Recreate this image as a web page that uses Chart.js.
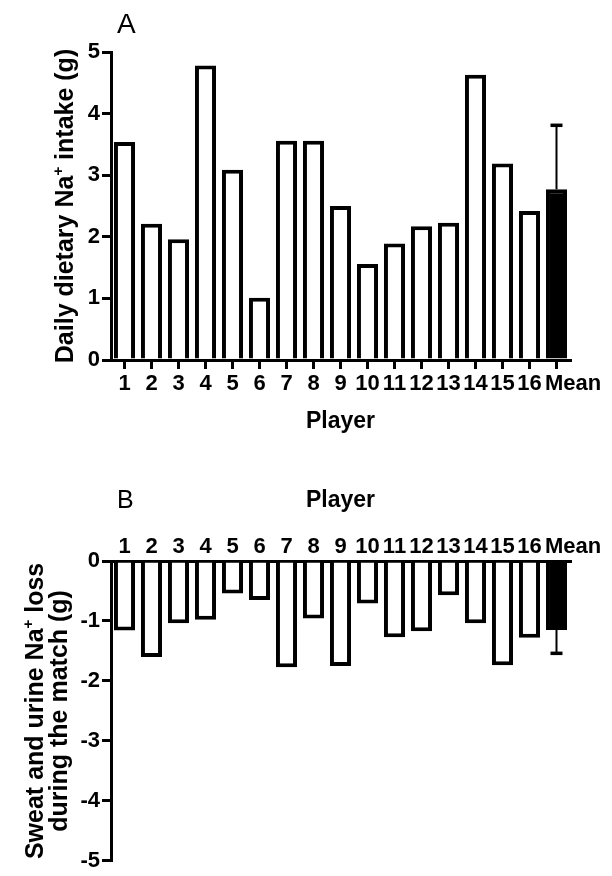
<!DOCTYPE html>
<html>
<head>
<meta charset="utf-8">
<script src="https://cdn.jsdelivr.net/npm/chart.js@4.4.0/dist/chart.umd.min.js"></script>
<style>
  html, body { margin: 0; padding: 0; background: #fff; }
  .panel { position: relative; width: 612px; }
  #panelA { height: 440px; }
  #panelB { height: 436px; }
</style>
</head>
<body>
<div class="panel" id="panelA"><canvas id="chartA"></canvas></div>
<div class="panel" id="panelB"><canvas id="chartB"></canvas></div>
<script>
// categories
const players = ["1", "2", "3", "4", "5", "6", "7", "8", "9", "10", "11", "12", "13", "14", "15", "16", "Mean"];

// panel A: daily dietary Na+ intake (g)
const intakeValues = [3.54, 2.21, 1.96, 4.78, 3.09, 1.01, 3.56, 3.56, 2.5, 1.56, 1.89, 2.17, 2.23, 4.63, 3.19, 2.42, 2.77];
const intakeMeanSd = 1.04;

// panel B: sweat and urine Na+ loss during the match (g)
const lossValues = [-1.16, -1.6, -1.04, -0.98, -0.54, -0.65, -1.77, -0.96, -1.75, -0.71, -1.27, -1.17, -0.57, -1.04, -1.74, -1.28, -1.15];
const lossMeanSd = 0.39;

const FONT = "'Liberation Sans', Arial, sans-serif";
const barFill = players.map((p) => (p === "Mean" ? "#000" : "#fff"));

// error bar on the Mean bar only, drawn from the y scale
const meanErrorBar = {
  id: "meanErrorBar",
  afterDatasetsDraw(chart, args, opts) {
    const ctx = chart.ctx;
    const meta = chart.getDatasetMeta(0);
    const last = meta.data.length - 1;
    const bar = meta.data[last];
    const value = chart.data.datasets[0].data[last];
    const yScale = chart.scales.y;
    const yStart = yScale.getPixelForValue(value);
    const yEnd = yScale.getPixelForValue(value + opts.sd);
    ctx.save();
    ctx.strokeStyle = "#000";
    ctx.lineWidth = 2;
    ctx.beginPath();
    ctx.moveTo(bar.x, yStart);
    ctx.lineTo(bar.x, yEnd);
    ctx.stroke();
    ctx.lineWidth = 3.5;
    ctx.beginPath();
    ctx.moveTo(bar.x - 6, yEnd);
    ctx.lineTo(bar.x + 6, yEnd);
    ctx.stroke();
    ctx.restore();
  },
};

// draws a run of text parts, "+" parts as superscripts
const drawParts = (ctx, parts, size) => {
  const normal = `bold ${size}px ${FONT}`;
  const small = `bold ${Math.round(size * 0.6)}px ${FONT}`;
  let total = 0;
  parts.forEach((p) => {
    ctx.font = p.sup ? small : normal;
    total += ctx.measureText(p.t).width;
  });
  let x = -total / 2;
  parts.forEach((p) => {
    ctx.font = p.sup ? small : normal;
    ctx.fillText(p.t, x, p.sup ? -size * 0.42 : 0);
    x += ctx.measureText(p.t).width;
  });
};

const panelTitles = {
  id: "panelTitles",
  afterDraw(chart, args, opts) {
    const ctx = chart.ctx;
    const area = chart.chartArea;
    ctx.save();
    ctx.fillStyle = "#000";
    ctx.textBaseline = "alphabetic";
    ctx.textAlign = "left";

    ctx.font = `${opts.letterSize}px ${FONT}`;
    ctx.fillText(opts.letter, opts.letterX, opts.letterY);

    ctx.font = `bold 23px ${FONT}`;
    ctx.textAlign = "center";
    ctx.fillText("Player", (area.left + area.right) / 2, opts.playerY);

    ctx.textAlign = "left";
    const midY = (area.top + area.bottom) / 2;
    opts.yLines.forEach((line, i) => {
      ctx.save();
      ctx.translate(opts.yBaselines[i], midY);
      ctx.rotate(-Math.PI / 2);
      drawParts(ctx, line, 25);
      ctx.restore();
    });
    ctx.restore();
  },
};

const tickFont = { family: FONT, size: 22, weight: "bold" };

// the "Mean" label sits a little right of its tick, as in the original figure
const xLabel = (value, index) => (index === players.length - 1 ? "\u2002\u2002\u2002" + players[index] : players[index]);

const makeChart = (canvasId, values, yMin, yMax, panel) => {
  const top = panel === "A";
  return new Chart(document.getElementById(canvasId), {
    type: "bar",
    data: {
      labels: players,
      datasets: [
        {
          data: values,
          backgroundColor: barFill,
          borderColor: "#000",
          borderWidth: 4,
          borderSkipped: "start",
          barPercentage: 0.78,
          categoryPercentage: 1,
        },
      ],
    },
    options: {
      responsive: true,
      maintainAspectRatio: false,
      animation: false,
      layout: {
        padding: top
          ? { top: 52, right: 42, left: 0, bottom: 0 }
          : { top: 0, right: 42, left: 0, bottom: 8 },
      },
      plugins: {
        legend: { display: false },
        tooltip: { enabled: false },
        meanErrorBar: { sd: top ? intakeMeanSd : -lossMeanSd },
        panelTitles: top
          ? {
              letter: "A",
              letterSize: 28,
              letterX: 117,
              letterY: 33,
              playerY: 428,
              yBaselines: [73],
              yLines: [[{ t: "Daily dietary Na" }, { t: "+", sup: true }, { t: " intake (g)" }]],
            }
          : {
              letter: "B",
              letterSize: 25,
              letterX: 117,
              letterY: 68,
              playerY: 67,
              yBaselines: [43, 67],
              yLines: [
                [{ t: "Sweat and urine Na" }, { t: "+", sup: true }, { t: " loss" }],
                [{ t: "during the match (g)" }],
              ],
            },
      },
      scales: {
        x: {
          position: top ? "bottom" : "top",
          grid: {
            display: top,
            drawOnChartArea: false,
            drawTicks: top,
            offset: false,
            tickLength: 9,
            lineWidth: 3,
            color: "#000",
          },
          border: { display: true, color: "#000", width: 3 },
          ticks: {
            color: "#000",
            font: tickFont,
            autoSkip: false,
            maxRotation: 0,
            padding: top ? 2 : 1,
            callback: xLabel,
          },
          afterFit: (scale) => {
            scale.height = top ? 80 : 121;
          },
        },
        y: {
          min: yMin,
          max: yMax,
          grid: {
            drawOnChartArea: false,
            tickLength: 9,
            lineWidth: 3,
            color: "#000",
          },
          border: { display: true, color: "#000", width: 3 },
          ticks: {
            stepSize: 1,
            color: "#000",
            font: tickFont,
            padding: 2,
          },
          afterFit: (scale) => {
            scale.width = 111;
          },
        },
      },
    },
    plugins: [meanErrorBar, panelTitles],
  });
};

makeChart("chartA", intakeValues, 0, 5, "A");
makeChart("chartB", lossValues, -5, 0, "B");
</script>
</body>
</html>
